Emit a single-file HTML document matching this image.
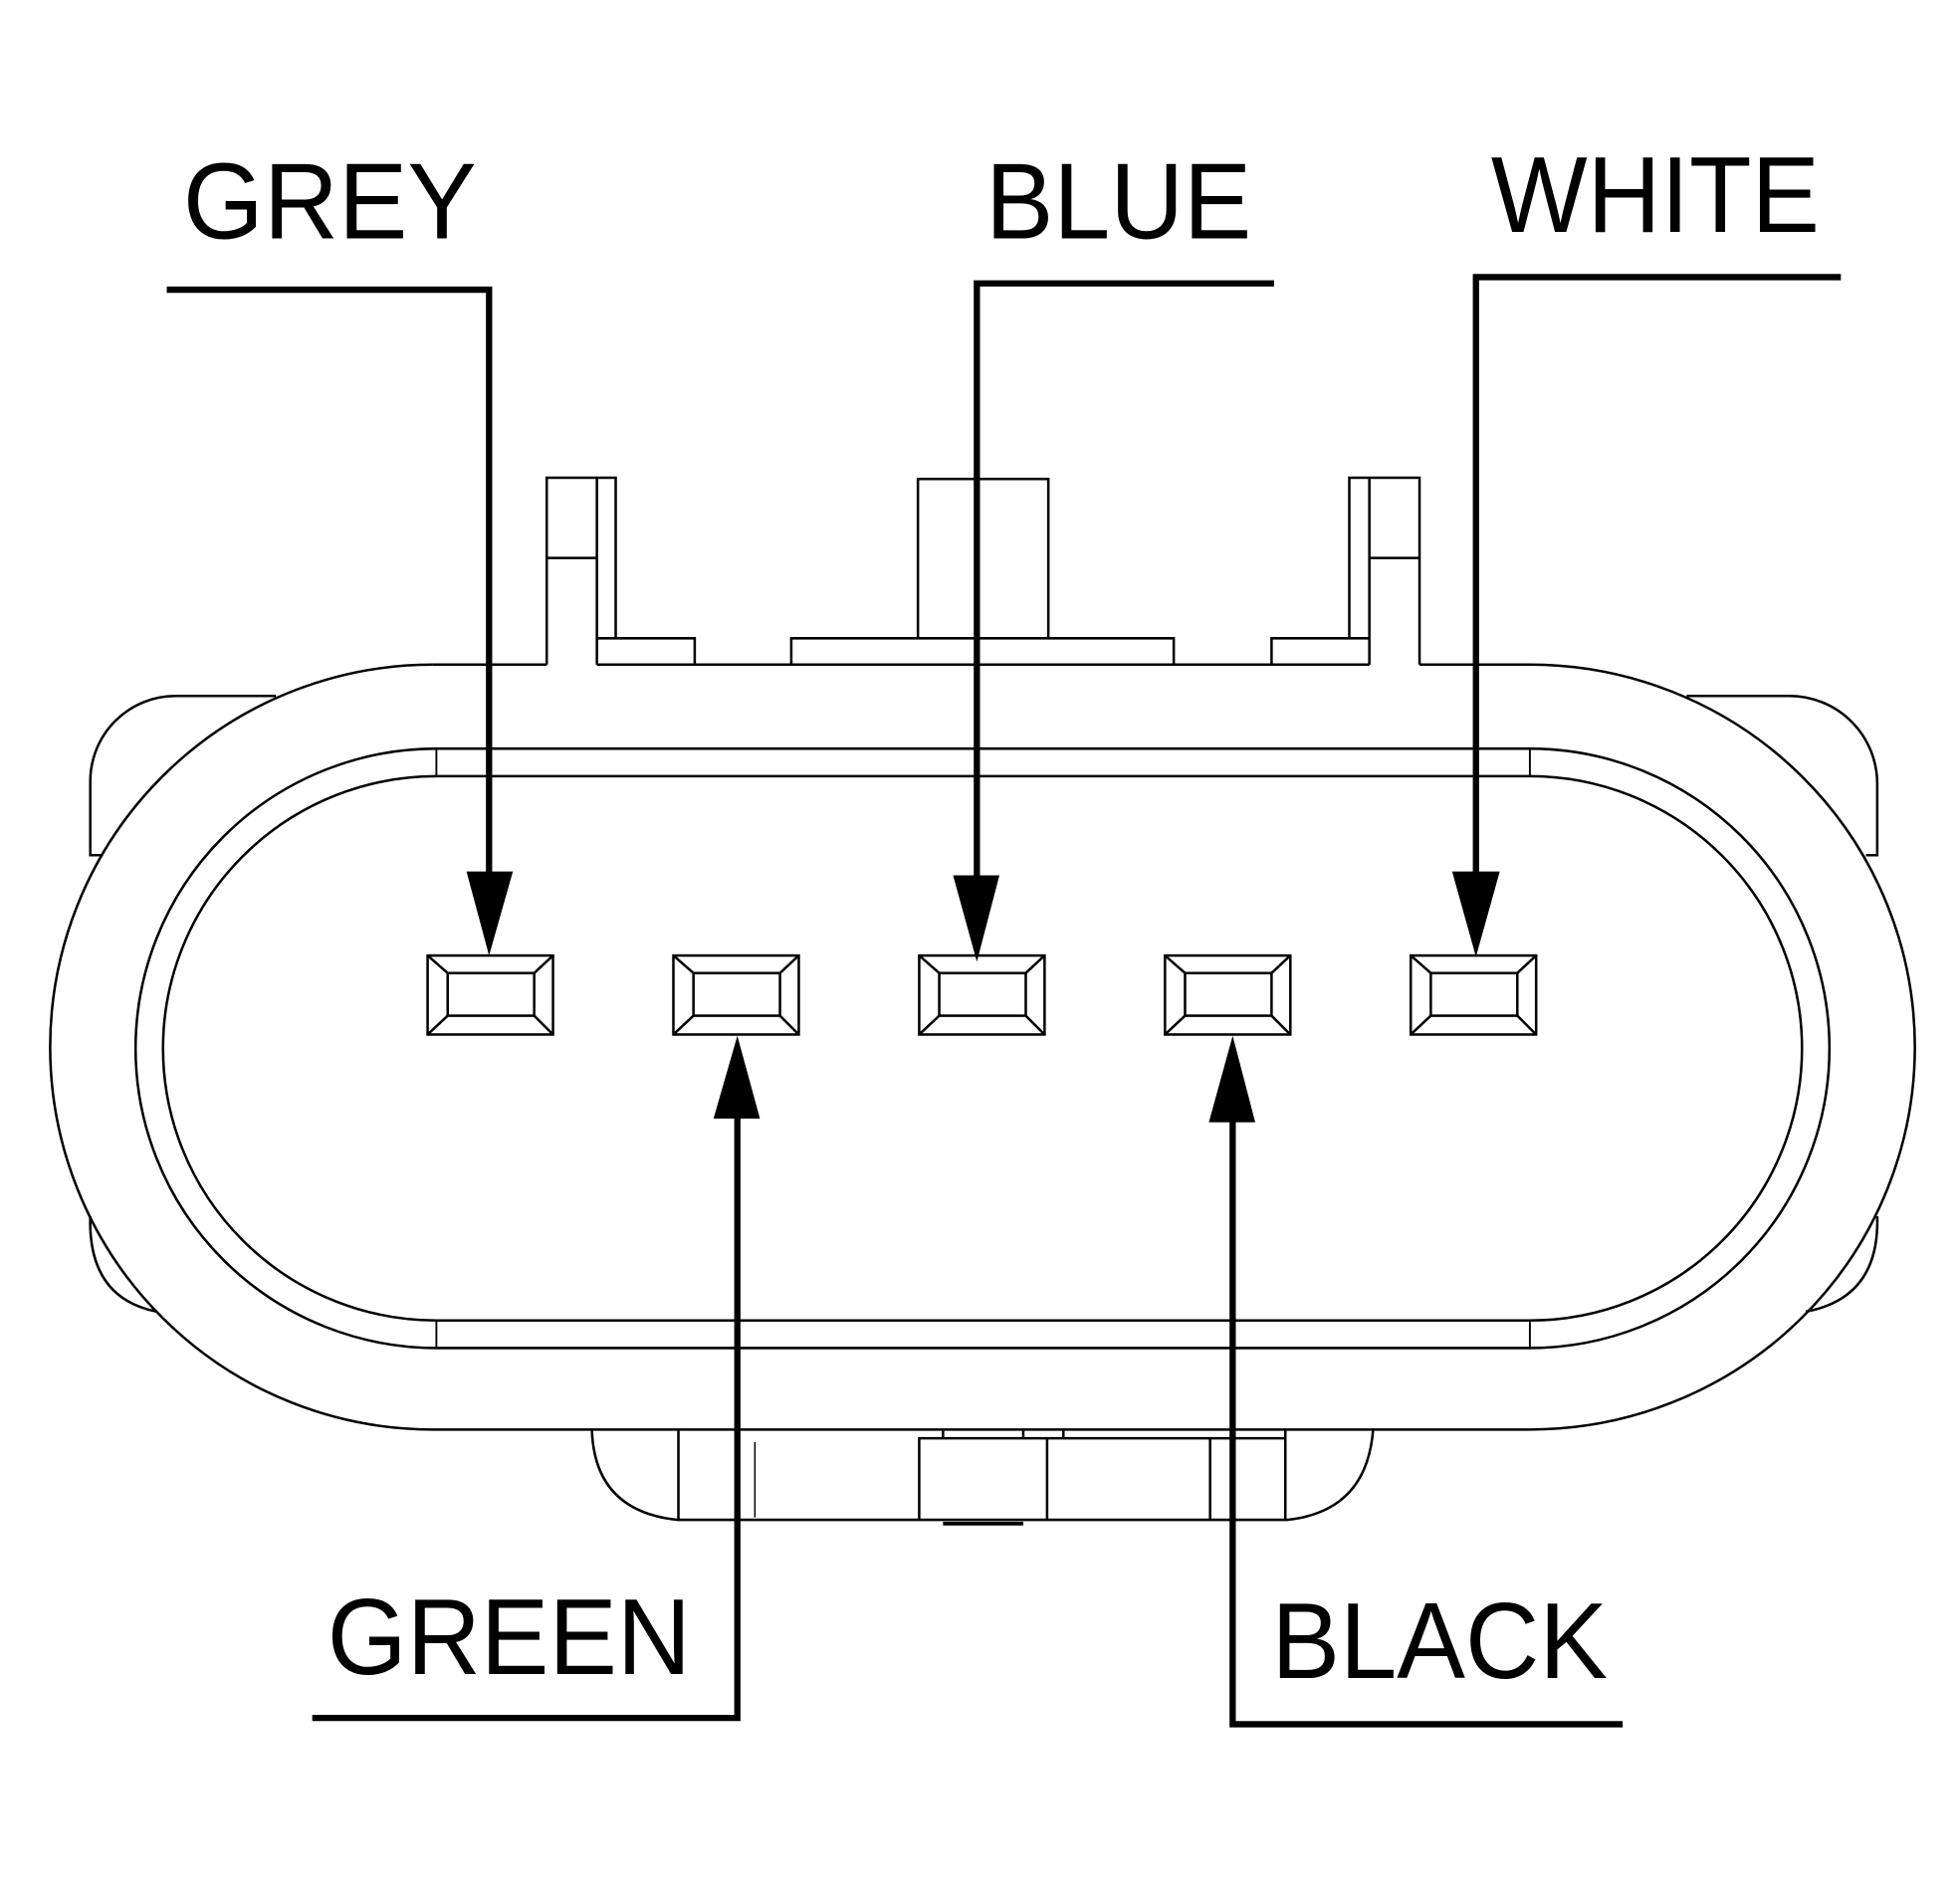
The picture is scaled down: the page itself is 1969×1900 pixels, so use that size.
<!DOCTYPE html>
<html><head><style>
html,body{margin:0;padding:0;background:#fff;}
svg{display:block;}
text{font-family:"Liberation Sans",sans-serif;font-size:86px;fill:#000;}
</style></head><body>
<svg width="1969" height="1900" viewBox="0 0 1563 1508" preserveAspectRatio="none" xmlns="http://www.w3.org/2000/svg">
<g fill="none" stroke="#000" stroke-width="2">
<!-- outer housing -->
<path d="M345,530 A305,305 0 0 0 345,1140 L1220,1140 A307,305 0 0 0 1220,530 L1132,530"/>
<path d="M345,530 L436,530"/>
<path d="M476,530 L1092,530"/>
<!-- rings -->
<path d="M348,597 A240,239 0 0 0 348,1075 L1220,1075 A239,239 0 0 0 1220,597 Z"/>
<path d="M348,619 A218,217 0 0 0 348,1053 L1220,1053 A217,217 0 0 0 1220,619 Z"/>
<path d="M348,597 V619 M1220,597 V619 M348,1053 V1075 M1220,1053 V1075" stroke-width="1.5"/>
<!-- side ears -->
<path d="M220,555 L140,555 A68,68 0 0 0 72,623 L72,682 L82,682"/>
<path d="M72,970 Q70,1035 125,1046"/>
<path d="M1345,555 L1427,555 A70,70 0 0 1 1497,625 L1497,682 L1488,682"/>
<path d="M1497,970 Q1499,1035 1440,1046"/>
<!-- top tabs -->
<path d="M436,530 V381 H491 V509 M476,381 V530 M436,445 H476 M476,509 H554 V530"/>
<path d="M732,509 V382 H836 V509 M631,530 V509 H936 V530"/>
<path d="M1132,530 V381 H1076 V509 M1092,381 V530 M1092,445 H1132 M1092,509 H1014 V530"/>
<!-- bottom latch -->
<path d="M472,1140 Q474,1205 540,1212 L1027,1212 Q1090,1205 1095,1140"/>
<path d="M541,1140 V1212 M733,1212 V1147 H1025 M835,1147 V1212 M965,1147 V1212 M1025,1140 V1212 M752,1140 V1147 M816,1140 V1147 M848,1140 V1147"/>
<path d="M602,1150 V1210" stroke-width="1.2"/>
<path d="M752,1215 H816" stroke-width="3"/>
</g>
<!-- terminals -->
<g fill="none" stroke="#000" stroke-width="2">
<g id="t"><rect x="341" y="762" width="100" height="63"/><rect x="357" y="776" width="69" height="34"/><path d="M341,762 L357,776 M441,762 L426,776 M341,825 L357,810 M441,825 L426,810"/></g>
<use href="#t" x="196"/><use href="#t" x="392"/><use href="#t" x="588"/><use href="#t" x="784"/>
</g>
<!-- leaders -->
<g fill="none" stroke="#000" stroke-width="5">
<path d="M133,231 H390 V700"/>
<path d="M1016,226 H779 V700"/>
<path d="M1468,221 H1177 V700"/>
<path d="M249,1370 H588 V888"/>
<path d="M1294,1375 H983 V890"/>
</g>
<g fill="#000">
<path d="M372,695 L409,695 L390,762 Z"/>
<path d="M760,698 L797,698 L779,767 Z"/>
<path d="M1158,695 L1196,695 L1177,763 Z"/>
<path d="M569,892 L606,892 L588,826 Z"/>
<path d="M964,895 L1001,895 L983,826 Z"/>
</g>
<text x="146" y="190" textLength="234" lengthAdjust="spacingAndGlyphs">GREY</text>
<text x="786" y="190" textLength="212" lengthAdjust="spacingAndGlyphs">BLUE</text>
<text x="1189" y="185" textLength="262" lengthAdjust="spacingAndGlyphs">WHITE</text>
<text x="261" y="1335" textLength="290" lengthAdjust="spacingAndGlyphs">GREEN</text>
<text x="1014" y="1338" textLength="268" lengthAdjust="spacingAndGlyphs">BLACK</text>
</svg>
</body></html>
